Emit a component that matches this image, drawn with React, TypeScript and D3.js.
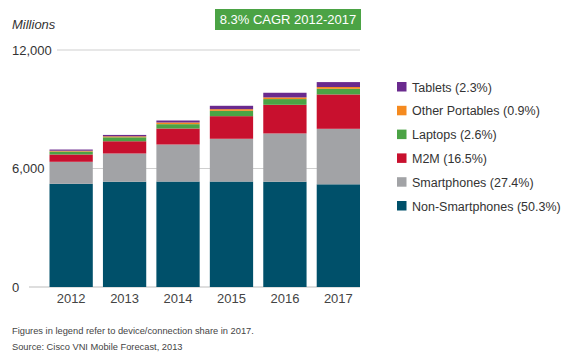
import React from 'react';
import * as d3 from 'd3';

const years = ['2012', '2013', '2014', '2015', '2016', '2017'];
const seriesNames = ['Non-Smartphones', 'Smartphones', 'M2M', 'Laptops', 'Other Portables', 'Tablets'];
const legendLabels = [
  'Non-Smartphones (50.3%)',
  'Smartphones (27.4%)',
  'M2M (16.5%)',
  'Laptops (2.6%)',
  'Other Portables (0.9%)',
  'Tablets (2.3%)',
];
const colors = ['#00506a', '#a2a3a6', '#c8102e', '#4ba345', '#f58a1f', '#6a2a8e'];

const nonSmartphones = [5225, 5330, 5340, 5340, 5330, 5200];
const smartphones = [1115, 1430, 1875, 2165, 2445, 2810];
const m2m = [370, 620, 810, 1145, 1450, 1740];
const laptops = [150, 200, 220, 270, 290, 285];
const otherPortables = [40, 50, 85, 85, 85, 90];
const tablets = [60, 70, 100, 170, 235, 250];
const yTicks = [0, 6000, 12000];

const FONT = '"Liberation Sans", Arial, sans-serif';

const App = () => {
  const table = years.map((y, i) => ({
    year: y,
    'Non-Smartphones': nonSmartphones[i],
    Smartphones: smartphones[i],
    M2M: m2m[i],
    Laptops: laptops[i],
    'Other Portables': otherPortables[i],
    Tablets: tablets[i],
  }));

  const stacked = d3.stack<any>().keys(seriesNames)(table);

  const x = d3.scaleBand().domain(years).range([49.5, 360]).paddingInner(0.19).paddingOuter(0);
  const y = d3.scaleLinear().domain([0, 12000]).range([287, 50]);

  const legendRows = d3.range(seriesNames.length).reverse();

  return (
    <svg
      width={564}
      height={358}
      style={{ position: 'absolute', left: 0, top: 0, background: '#fff', fontFamily: FONT }}
    >
      {/* gridlines */}
      {yTicks.map((t) => (
        <g key={t}>
          <line
            x1={t === 12000 ? 57 : t === 6000 ? 52 : 29}
            x2={360}
            y1={y(t)}
            y2={y(t)}
            stroke={t === 0 ? '#bdbdbd' : '#cfcfcf'}
            strokeWidth={1.2}
          />
          <text x={12} y={y(t) + 4.5} fontSize={13} fill="#333">
            {d3.format(',')(t)}
          </text>
        </g>
      ))}

      <text x={12} y={29} fontSize={13} fontStyle="italic" fill="#333">
        Millions
      </text>

      {/* bars */}
      {stacked.map((s, si) => (
        <g key={s.key} fill={colors[si]}>
          {s.map((d, i) => (
            <rect
              key={i}
              x={x(years[i])}
              width={x.bandwidth()}
              y={y(d[1])}
              height={y(d[0]) - y(d[1])}
            />
          ))}
        </g>
      ))}

      {years.map((yr) => (
        <text
          key={yr}
          x={(x(yr) as number) + x.bandwidth() / 2}
          y={303}
          fontSize={13}
          textAnchor="middle"
          fill="#444"
        >
          {yr}
        </text>
      ))}

      {/* CAGR badge */}
      <rect x={215} y={9} width={146} height={21} fill="#4ba345" />
      <text x={288} y={24} fontSize={13} textAnchor="middle" fill="#fff">
        8.3% CAGR 2012-2017
      </text>

      {/* legend */}
      {legendRows.map((si, row) => (
        <g key={si} transform={`translate(397, ${87 + row * 23.8})`}>
          <rect x={0} y={-5} width={9.5} height={9.5} fill={colors[si]} />
          <text x={15} y={4.5} fontSize={12.5} fill="#333">
            {legendLabels[si]}
          </text>
        </g>
      ))}

      <text x={12} y={334} fontSize={9.3} fill="#444">
        Figures in legend refer to device/connection share in 2017.
      </text>
      <text x={12} y={350} fontSize={9.3} fill="#444">
        Source: Cisco VNI Mobile Forecast, 2013
      </text>
    </svg>
  );
};

export default App;
